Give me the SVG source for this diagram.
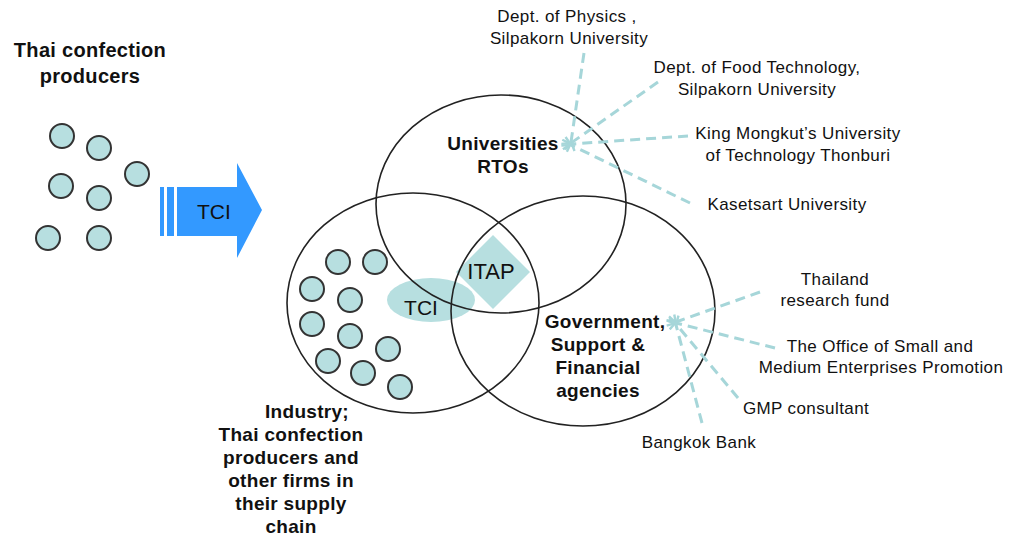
<svg xmlns="http://www.w3.org/2000/svg" width="1009" height="537" viewBox="0 0 1009 537">
  <style>
    .bold { font-family: "Liberation Sans", Arial, sans-serif; font-weight: bold; fill: #111; text-anchor: middle; letter-spacing: 0.3px; }
    .lbl { font-family: "Liberation Sans", Arial, sans-serif; font-size: 17px; fill: #111; text-anchor: middle; letter-spacing: 0.4px; }
    .firm { fill: #b7dfe0; stroke: #333; stroke-width: 2; }
    .set { fill: none; stroke: #222; stroke-width: 1.6; }
    .link { fill: none; stroke: #a6d6d9; stroke-width: 3; stroke-dasharray: 10 6; }
  </style>
  <defs>
    <marker id="chev" viewBox="0 0 10 10" refX="2" refY="5" markerWidth="4" markerHeight="4" orient="auto">
      <path d="M9,1 L2,5 L9,9" fill="none" stroke="#a6d6d9" stroke-width="2"/>
    </marker>
  </defs>
  <rect width="1009" height="537" fill="#fff"/>

  <!-- producers before the programme -->
  <g id="producers-title">
    <text class="bold" x="90" y="57" font-size="20">Thai confection</text>
    <text class="bold" x="90" y="83" font-size="20">producers</text>
  </g>
  <g id="producers">
    <circle class="firm" cx="62" cy="136" r="12"/>
    <circle class="firm" cx="99" cy="148" r="12"/>
    <circle class="firm" cx="137" cy="174" r="12"/>
    <circle class="firm" cx="61" cy="186" r="12"/>
    <circle class="firm" cx="99" cy="198" r="12"/>
    <circle class="firm" cx="48" cy="238" r="12"/>
    <circle class="firm" cx="99" cy="238" r="12"/>
  </g>

  <!-- TCI arrow -->
  <g id="tci-arrow">
    <rect x="160" y="187" width="4" height="49" fill="#3399ff"/>
    <rect x="167" y="187" width="7" height="49" fill="#3399ff"/>
    <path d="M177,187 L237,187 L237,163 L262,210 L237,258 L237,236 L177,236 Z" fill="#3399ff"/>
    <text x="197" y="219" font-family="Liberation Sans, Arial, sans-serif" font-size="21" fill="#111">TCI</text>
  </g>

  <!-- shaded overlaps -->
  <g id="tci">
    <ellipse cx="431" cy="300" rx="44" ry="22" fill="#b7dfe0"/>
    <text x="421" y="315" font-family="Liberation Sans, Arial, sans-serif" font-size="21" fill="#111" text-anchor="middle">TCI</text>
  </g>
  <g id="itap">
    <path d="M493,235 L530,272 L493,309 L456,272 Z" fill="#b7dfe0"/>
    <text x="491" y="279" font-family="Liberation Sans, Arial, sans-serif" font-size="22" fill="#111" text-anchor="middle">ITAP</text>
  </g>

  <!-- the three sets -->
  <g id="universities">
    <ellipse class="set" cx="501" cy="204" rx="125" ry="109"/>
    <text class="bold" x="503" y="150" font-size="19">Universities</text>
    <text class="bold" x="503" y="173" font-size="19">RTOs</text>
  </g>
  <g id="industry">
    <ellipse class="set" cx="413" cy="303" rx="126" ry="110"/>
    <circle class="firm" cx="338" cy="262" r="12"/>
    <circle class="firm" cx="375" cy="262" r="12"/>
    <circle class="firm" cx="312" cy="289" r="12"/>
    <circle class="firm" cx="350" cy="300" r="12"/>
    <circle class="firm" cx="312" cy="324" r="12"/>
    <circle class="firm" cx="350" cy="336" r="12"/>
    <circle class="firm" cx="388" cy="349" r="12"/>
    <circle class="firm" cx="328" cy="361" r="12"/>
    <circle class="firm" cx="363" cy="373" r="12"/>
    <circle class="firm" cx="400" cy="387" r="12"/>
    <text class="bold" x="307" y="418" font-size="19">Industry;</text>
    <text class="bold" x="291" y="441" font-size="19">Thai confection</text>
    <text class="bold" x="291" y="464" font-size="19">producers and</text>
    <text class="bold" x="291" y="487" font-size="19">other firms in</text>
    <text class="bold" x="291" y="510" font-size="19">their supply</text>
    <text class="bold" x="291" y="533" font-size="19">chain</text>
  </g>
  <g id="government">
    <ellipse class="set" cx="583" cy="311" rx="132" ry="115"/>
    <text class="bold" x="605" y="328" font-size="19">Government,</text>
    <text class="bold" x="598" y="351" font-size="19">Support &amp;</text>
    <text class="bold" x="598" y="374" font-size="19">Financial</text>
    <text class="bold" x="598" y="397" font-size="19">agencies</text>
  </g>

  <!-- dashed links to partner organisations -->
  <g id="links">
    <line class="link" x1="584" y1="53" x2="571" y2="142" marker-end="url(#chev)"/>
    <line class="link" x1="658" y1="82" x2="571" y2="143" marker-end="url(#chev)"/>
    <line class="link" x1="688" y1="136" x2="571" y2="144" marker-end="url(#chev)"/>
    <line class="link" x1="690" y1="203" x2="571" y2="145" marker-end="url(#chev)"/>
    <line class="link" x1="760" y1="292" x2="676" y2="322" marker-end="url(#chev)"/>
    <line class="link" x1="775" y1="348" x2="676" y2="323" marker-end="url(#chev)"/>
    <line class="link" x1="738" y1="398" x2="676" y2="324" marker-end="url(#chev)"/>
    <line class="link" x1="702" y1="423" x2="676" y2="325" marker-end="url(#chev)"/>
  </g>

  <!-- partner labels -->
  <g id="physics">
    <text class="lbl" x="567" y="22">Dept. of Physics ,</text>
    <text class="lbl" x="569" y="44">Silpakorn University</text>
  </g>
  <g id="food-tech">
    <text class="lbl" x="757" y="73">Dept. of Food Technology,</text>
    <text class="lbl" x="757" y="95">Silpakorn University</text>
  </g>
  <g id="kmutt">
    <text class="lbl" x="798" y="139">King Mongkut’s University</text>
    <text class="lbl" x="798" y="161">of Technology Thonburi</text>
  </g>
  <g id="kasetsart">
    <text class="lbl" x="787" y="210">Kasetsart University</text>
  </g>
  <g id="trf">
    <text class="lbl" x="835" y="285">Thailand</text>
    <text class="lbl" x="835" y="306">research fund</text>
  </g>
  <g id="osmep">
    <text class="lbl" x="880" y="352">The Office of Small and</text>
    <text class="lbl" x="881" y="373">Medium Enterprises Promotion</text>
  </g>
  <g id="gmp">
    <text class="lbl" x="806" y="414">GMP consultant</text>
  </g>
  <g id="bangkok-bank">
    <text class="lbl" x="699" y="448">Bangkok Bank</text>
  </g>
</svg>
